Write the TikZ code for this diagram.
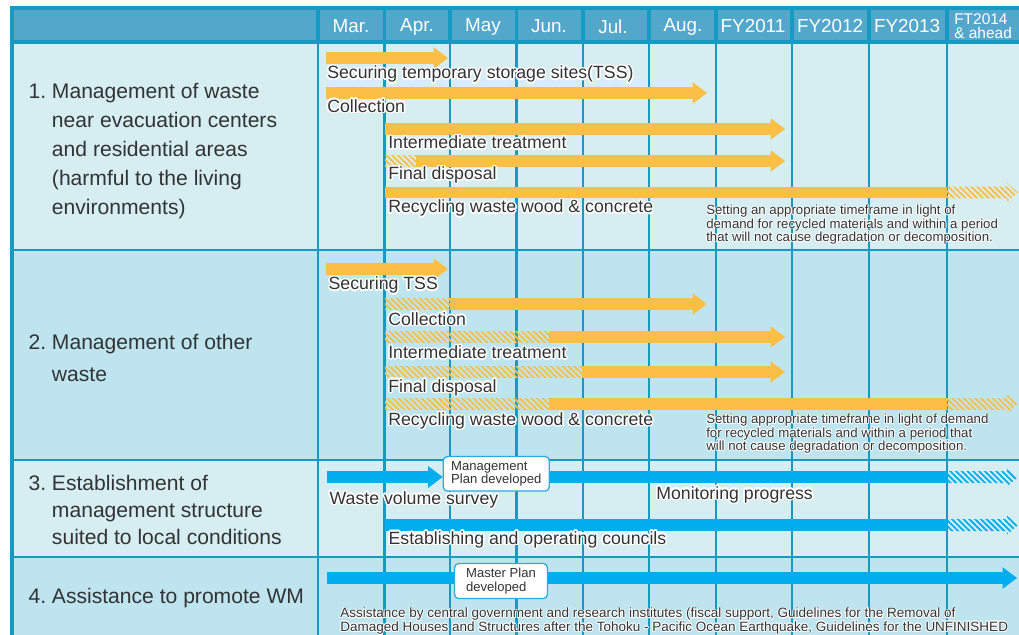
\documentclass[tikz,border=0pt]{standalone}
\usepackage{fontspec}
\setmainfont{Liberation Sans}
\usepackage{contour}
\contourlength{1pt}
\usetikzlibrary{arrows.meta,patterns.meta,positioning}

\definecolor{gridblue}{HTML}{159BC3}
\definecolor{headblue}{HTML}{52A7CB}
\definecolor{rowlight}{HTML}{D6EEF2}
\definecolor{rowdark}{HTML}{BEE5EF}
\definecolor{barorange}{HTML}{FBBF45}
\definecolor{barblue}{HTML}{00AEEF}
\definecolor{boxblue}{HTML}{2AAAE2}
\definecolor{textgray}{HTML}{333333}

\newcommand{\halo}[1]{\contour{white}{#1}}
\newcommand{\softhalo}[1]{{\contourlength{0.5pt}\contour{white}{#1}}}

\tikzset{gridline/.style={draw=gridblue,line width=1.6pt},
  frameline/.style={draw=gridblue,line width=2.3pt},
  month/.style={text=white,font=\fontsize{13.4}{15}\selectfont},
  rowlabel/.style={anchor=west,align=left,inner sep=0pt,text=textgray},
  barlabel/.style={anchor=west,inner sep=0pt,text=textgray,font=\fontsize{12.6}{15}\selectfont},
  notetext/.style={anchor=west,align=left,inner sep=0pt,text=textgray,font=\fontsize{9.4}{9.5}\selectfont},
  orangebar/.style={draw=barorange,line width=8.2pt,-{Triangle[width=15.5pt,length=10.3pt,line width=0pt]}},
  orangeline/.style={draw=barorange,line width=8.2pt},
  orangehatch/.style={pattern={Lines[angle=-45,distance=2.9pt,line width=1.3pt]},pattern color=barorange},
  bluebar/.style={draw=barblue,line width=8.6pt,-{Triangle[width=15.5pt,length=10.3pt,line width=0pt]}},
  blueline/.style={draw=barblue,line width=8.6pt},
  bluehatch/.style={pattern={Lines[angle=-45,distance=2.9pt,line width=1.3pt]},pattern color=barblue},
  milestone/.style={draw=boxblue,fill=white,line width=0.9pt,rounded corners=3pt,align=left,text=textgray,font=\fontsize{9.3}{9.6}\selectfont}
}

\begin{document}
\begin{tikzpicture}[x=0.025cm,y=-0.025cm]
  \useasboundingbox (0,0) rectangle (1019,634);
  \clip (0,0) rectangle (1019,634);
  \fill[white] (0,0) rectangle (1019,634);

  % Table
  \fill[headblue] (12,8) rectangle (1030,42);
  \fill[rowlight] (12,42) rectangle (1030,250);
  \fill[rowdark] (12,250) rectangle (1030,460);
  \fill[rowlight] (12,460) rectangle (1030,557);
  \fill[rowdark] (12,557) rectangle (1030,640);
  \foreach \x in {318,384.5,450,516.5,583,649,716,792,869,947}{
    \draw[gridline] (\x,8) -- (\x,640);
    \draw[frameline] (\x,8) -- (\x,42);
  }
  \foreach \y in {250,460,557} \draw[gridline] (12,\y) -- (1030,\y);
  \draw[frameline] (1030,8) -- (12,8) -- (12,640);
  \draw[frameline] (12,42) -- (1030,42);

  % Header
  \foreach \m/\x [count=\i] in {Mar./351,Apr./417,May/483,Jun./549,Jul./613,Aug./683,FY2011/753,FY2012/830,FY2013/907}
    \node[month] (hd\i) at (\x,26.5) {\m};
  \node[anchor=west,align=left,inner sep=0pt,text=white,font=\fontsize{11}{9.5}\selectfont] (hdft) at (954,26) {FT2014\\\& ahead};

  % Tasks
  \node[rowlabel,font=\fontsize{15}{20.7}\selectfont] (task1) at (51.7,151) {\llap{1.\ }Management of waste\\near evacuation centers\\and residential areas\\(harmful to the living\\environments)};
  \node[rowlabel,font=\fontsize{15}{22.7}\selectfont] (task2) at (51.7,357.5) {\llap{2.\ }Management of other\\waste};
  \node[rowlabel,font=\fontsize{15}{19.2}\selectfont] (task3) at (51.7,510) {\llap{3.\ }Establishment of\\management structure\\suited to local conditions};
  \node[rowlabel,font=\fontsize{15}{20}\selectfont] (task4) at (51.7,598) {\llap{4.\ }Assistance to promote WM};

  % Waste near evacuation centers
  \draw[orangebar] (326,58) -- (448,58);
  \draw[orangebar] (326,93) -- (707,93);
  \draw[orangebar] (385,129) -- (785,129);
  \fill[orangehatch] (385,155.2) rectangle (416,166.8);
  \draw[orangebar] (416,161) -- (785,161);
  \draw[orangeline] (385,192.5) -- (947,192.5);

  % Other waste
  \draw[orangebar] (326,269) -- (448,269);
  \fill[orangehatch] (385,298.2) rectangle (450,309.8);
  \draw[orangebar] (450,304) -- (707,304);
  \fill[orangehatch] (385,331.2) rectangle (549,342.8);
  \draw[orangebar] (549,337) -- (785,337);
  \fill[orangehatch] (385,366.2) rectangle (582,377.8);
  \draw[orangebar] (582,372) -- (785,372);
  \fill[orangehatch] (385,398.2) rectangle (549,409.8);
  \draw[orangeline] (549,404) -- (947,404);
  \foreach \y in {192.5,404}
    \fill[orangehatch] (947,\y-5.8) -- (1007,\y-5.8) -- (1007,\y-9.5) -- (1018,\y) -- (1007,\y+9.5) -- (1007,\y+5.8) -- (947,\y+5.8) -- cycle;

  % Management structure
  \node[milestone,minimum width=75.4pt,minimum height=24.2pt] (mplan) at (496.3,473.8) {Management\\Plan developed};
  \coordinate (survey) at (327,477);
  \draw[bluebar] (survey) -- (survey -| mplan.west);
  \draw[blueline] (survey -| mplan.east) -- (947,477);
  \draw[blueline] (385,525) -- (947,525);
  \foreach \y in {477,525}
    \fill[bluehatch] (947,\y-6) -- (1007,\y-6) -- (1007,\y-9.5) -- (1018,\y) -- (1007,\y+9.5) -- (1007,\y+6) -- (947,\y+6) -- cycle;

  % Assistance
  \node[milestone,minimum width=66pt,minimum height=25pt] (master) at (501,581) {Master Plan\\developed};
  \coordinate (assist) at (327,578);
  \draw[blueline] (assist) -- (assist -| master.west);
  \draw[bluebar] (assist -| master.east) -- (1017,578);

  % Bar labels
  \node[barlabel] (tss1) at (327,75) {\halo{Securing temporary storage sites(TSS)}};
  \node[barlabel] (col1) at (327,106.5) {\halo{Collection}};
  \node[barlabel] (int1) at (388,143.3) {\halo{Intermediate treatment}};
  \node[barlabel] (fin1) at (388,175.8) {\halo{Final disposal}};
  \node[barlabel] (rec1) at (388,209) {\halo{Recycling waste wood \& concrete}};
  \node[notetext] (note1) at (706,225) {\softhalo{Setting an appropriate timeframe in light of}\\\softhalo{demand for recycled materials and within a period}\\\softhalo{that will not cause degradation or decomposition.}};
  \node[barlabel] (tss2) at (328.3,286) {\halo{Securing TSS}};
  \node[barlabel] (col2) at (388,319.7) {\halo{Collection}};
  \node[barlabel] (int2) at (388,353) {\halo{Intermediate treatment}};
  \node[barlabel] (fin2) at (388,388.3) {\halo{Final disposal}};
  \node[barlabel] (rec2) at (388,421.7) {\halo{Recycling waste wood \& concrete}};
  \node[notetext] (note2) at (706,434) {\softhalo{Setting appropriate timeframe in light of demand}\\\softhalo{for recycled materials and within a period that}\\\softhalo{will not cause degradation or decomposition.}};
  \node[barlabel] (wvs) at (329.3,500.3) {\halo{Waste volume survey}};
  \node[barlabel] (mon) at (656,495.3) {\halo{Monitoring progress}};
  \node[barlabel] (cou) at (388.3,540.3) {\halo{Establishing and operating councils}};
  \node[notetext,font=\fontsize{9.6}{9.6}\selectfont] (note4) at (340,621.5) {\softhalo{Assistance by central government and research institutes (fiscal support, Guidelines for the Removal of}\\\softhalo{Damaged Houses and Structures after the Tohoku - Pacific Ocean Earthquake, Guidelines for the UNFINISHED}};

\end{tikzpicture}
\end{document}
